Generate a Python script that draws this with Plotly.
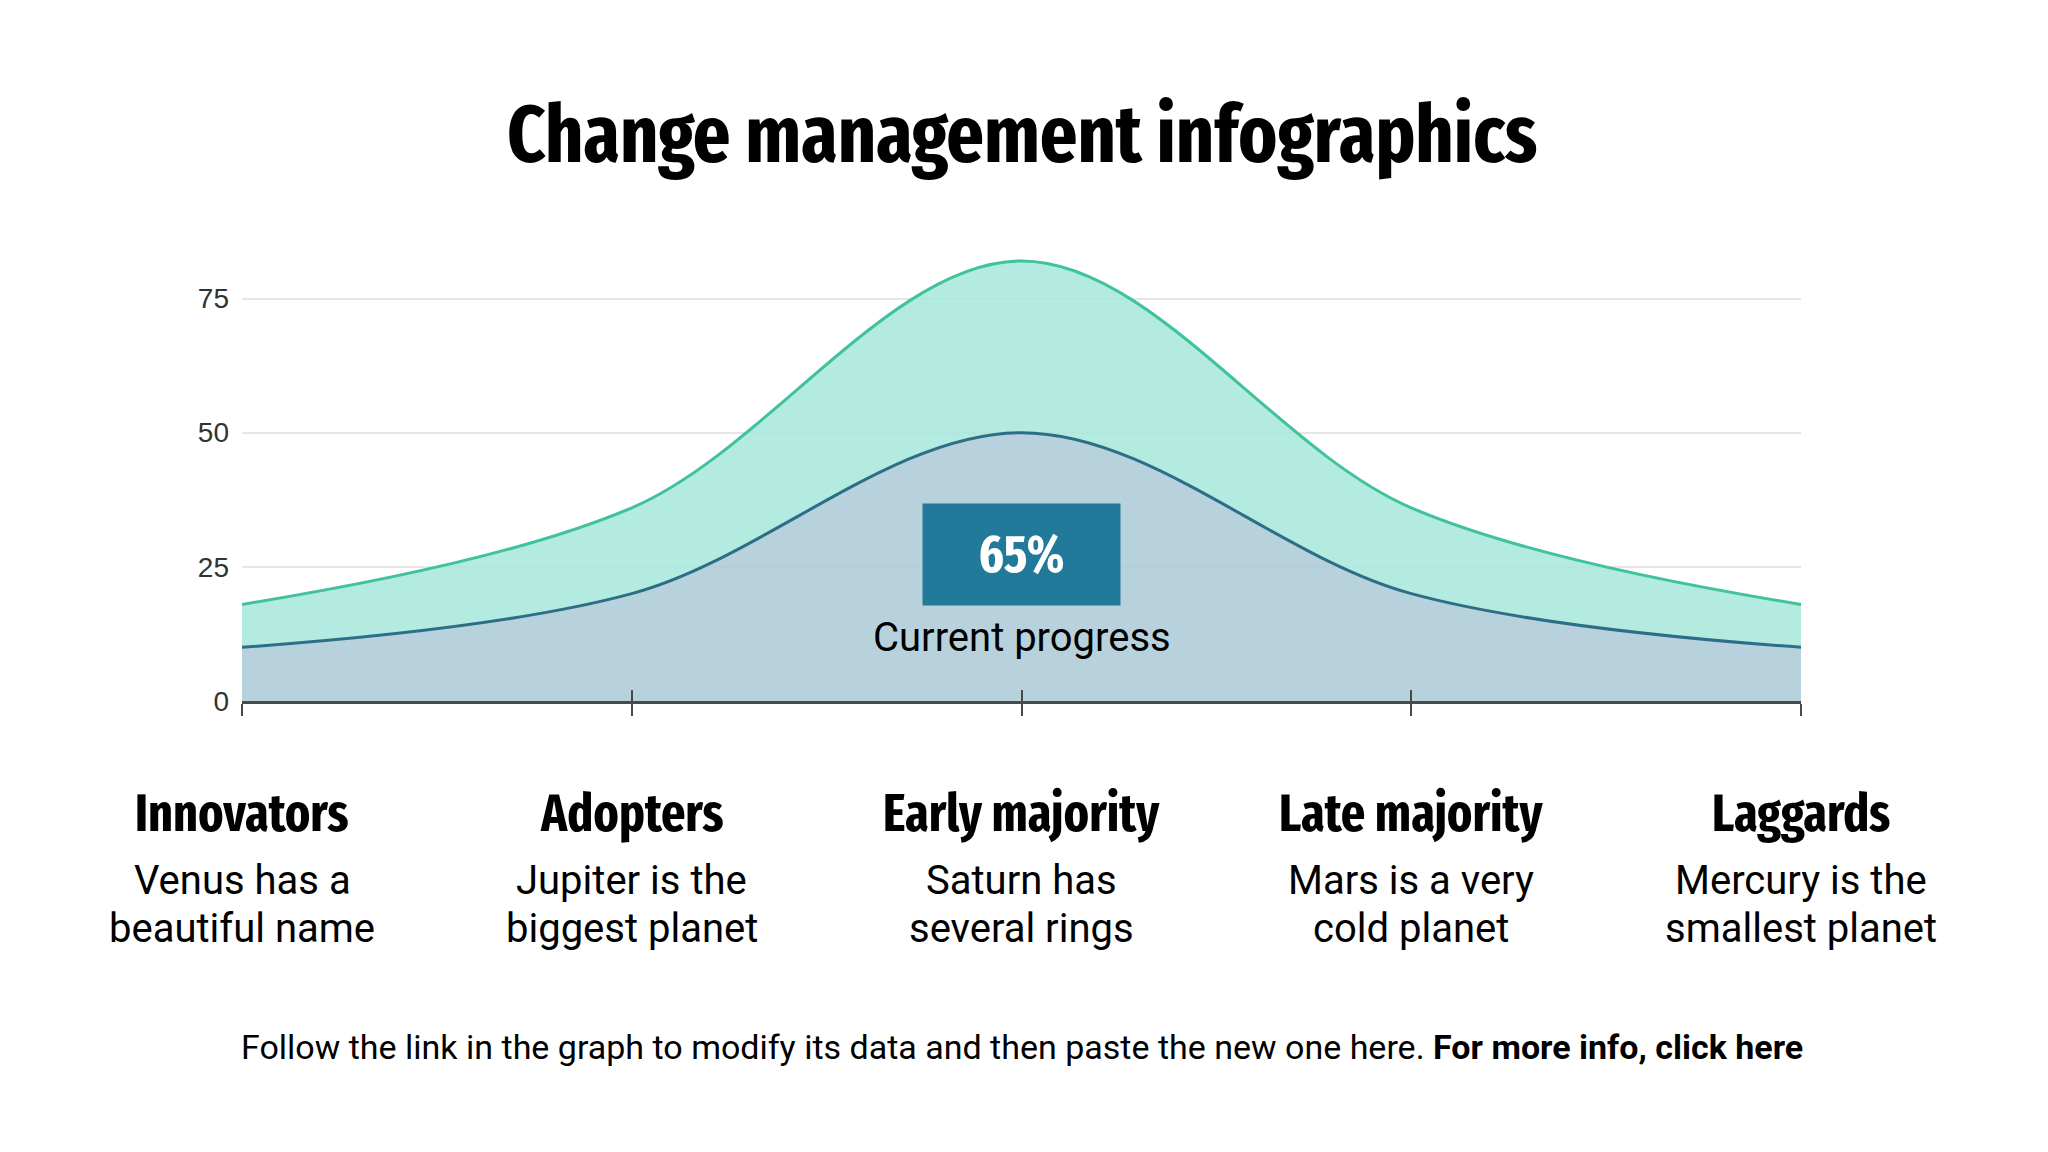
import plotly.graph_objects as go

# ---- data ----
stages = ["Innovators", "Adopters", "Early majority", "Late majority", "Laggards"]
descriptions = [
    "Venus has a<br>beautiful name",
    "Jupiter is the<br>biggest planet",
    "Saturn has<br>several rings",
    "Mars is a very<br>cold planet",
    "Mercury is the<br>smallest planet",
]
base_values = [10, 20, 50, 20, 10]      # lower (blue) series
extra_values = [8, 16, 32, 16, 8]       # stacked (green) series
y_ticks = [0, 25, 50, 75]
progress_label = "65%"
progress_caption = "Current progress"
title_text = "Change management infographics"
footer_text = ("Follow the link in the graph to modify its data and then paste the new one here. "
               "<b>For more info, click here</b>")

# ---- layout constants ----
W, H = 2048, 1152
PL, PR, PT, PB = 234, 1793, 210, 693
COND = "'Fira Sans Extra Condensed', 'Liberation Sans Narrow', 'DejaVu Sans Condensed', 'Arial Narrow', sans-serif"
BODY = "Roboto, 'Noto Sans', sans-serif"


def py(p):
    return (PB - p) / (PB - PT)


xs = list(range(len(stages)))

fig = go.Figure()
fig.add_trace(go.Scatter(
    x=xs, y=base_values, stackgroup="one", mode="lines",
    line=dict(color="#2c6e87", width=3, shape="spline", smoothing=1),
    fillcolor="rgba(173,204,215,0.88)", hoverinfo="skip", showlegend=False))
fig.add_trace(go.Scatter(
    x=xs, y=extra_values, stackgroup="one", mode="lines",
    line=dict(color="#3fc29d", width=3, shape="spline", smoothing=1),
    fillcolor="rgba(170,232,220,0.88)", hoverinfo="skip", showlegend=False))
# helper trace so the overlay axis (upper half of the tick marks) is drawn
fig.add_trace(go.Scatter(x=[None], y=[None], xaxis="x2", yaxis="y",
                         showlegend=False, hoverinfo="skip"))

annotations = []
annotations.append(dict(text=f"<b>{title_text}</b>", x=0.5, xref="paper", y=py(127), yref="paper",
                        xanchor="center", yanchor="middle", showarrow=False,
                        font=dict(family=COND, size=80, color="#000")))
for i, (s, d) in enumerate(zip(stages, descriptions)):
    annotations.append(dict(text=f"<b>{s}</b>", x=xs[i], xref="x", y=py(805), yref="paper",
                            xanchor="center", yanchor="middle", showarrow=False,
                            font=dict(family=COND, size=52, color="#000")))
    for j, line in enumerate(d.split("<br>")):
        annotations.append(dict(text=line, x=xs[i], xref="x", y=py(872 + 48 * j), yref="paper",
                                xanchor="center", yanchor="middle", showarrow=False,
                                font=dict(family=BODY, size=40, color="#000")))
annotations.append(dict(text=f"<b>{progress_label}</b>", x=xs[2], xref="x", y=py(546), yref="paper",
                        xanchor="center", yanchor="middle", showarrow=False,
                        width=197, height=101, borderpad=0, bgcolor="#217a99",
                        font=dict(family=COND, size=52, color="#fff")))
annotations.append(dict(text=progress_caption, x=xs[2], xref="x", y=py(629), yref="paper",
                        xanchor="center", yanchor="middle", showarrow=False,
                        font=dict(family=BODY, size=40, color="#000")))
annotations.append(dict(text=footer_text, x=0.5, xref="paper", y=py(1039), yref="paper",
                        xanchor="center", yanchor="middle", showarrow=False,
                        font=dict(family=BODY, size=34, color="#000")))

fig.update_layout(
    width=W, height=H,
    margin=dict(l=PL, r=W - PR, t=PT, b=H - PB, pad=0),
    paper_bgcolor="#ffffff", plot_bgcolor="#ffffff",
    showlegend=False,
    font=dict(family=BODY, color="#000"),
    xaxis=dict(range=[0, len(stages) - 1], tickvals=xs, ticktext=[""] * len(xs),
               ticks="outside", ticklen=12, tickwidth=2, tickcolor="#4a4a4a",
               showline=True, linecolor="#4a4a4a", linewidth=3,
               showgrid=False, zeroline=False, fixedrange=True),
    xaxis2=dict(overlaying="x", anchor="y", side="bottom", range=[0, len(stages) - 1],
                tickvals=xs, ticktext=[""] * len(xs), ticks="inside", ticklen=11, tickwidth=2,
                tickcolor="#4a4a4a", showline=False, showgrid=False, zeroline=False,
                showticklabels=False, fixedrange=True),
    yaxis=dict(range=[0, 90], tickvals=y_ticks, ticks="", showline=False, zeroline=False,
               showgrid=True, gridcolor="#e6e6e6", gridwidth=2,
               tickfont=dict(family="'Liberation Sans', Arial, sans-serif", size=28, color="#333"),
               ticklabelstandoff=12, fixedrange=True),
    annotations=annotations,
)

fig.write_html("out.html")
